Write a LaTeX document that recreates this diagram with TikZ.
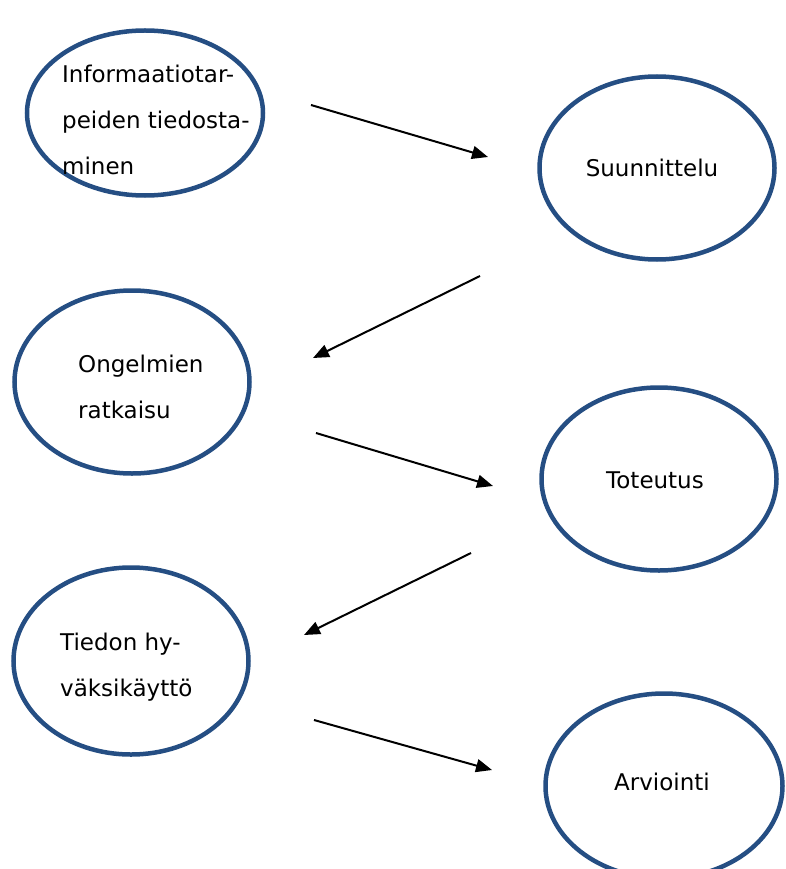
\documentclass[tikz,border=0pt]{standalone}
\usepackage{fontspec}
\setmainfont{DejaVu Sans}
\usetikzlibrary{shapes.geometric,arrows.meta}
\definecolor{rim}{RGB}{37,78,131}
\tikzstyle{phase}=[ellipse,draw=rim,line width=4.5pt,inner sep=0pt,minimum width=235pt,minimum height=183pt]
\tikzstyle{txt}=[align=left,inner sep=0pt,anchor=west,font=\fontsize{23}{46}\selectfont]
\tikzstyle{flow}=[line width=2pt,-{Triangle[length=16pt,width=13pt]}]

\begin{document}
\begin{tikzpicture}[x=1pt,y=-1pt]
\useasboundingbox (0,0) rectangle (785,869);

  % ellipses
  \node[phase,minimum width=236pt,minimum height=165pt] (info) at (145,113) {};
  \node[phase] (plan) at (657,168) {};
  \node[phase] (solve) at (132,382) {};
  \node[phase] (impl) at (659,479) {};
  \node[phase,minimum height=187pt] (use) at (131,661) {};
  \node[phase,minimum width=237pt,minimum height=185pt] (eval) at (664,786) {};

  % texts
  \node[txt] (infot) at (62,120) {Informaatiotar-\\peiden tiedosta-\\minen};
  \node[txt,anchor=center] (plant) at (652,168) {Suunnittelu};
  \node[txt] (solvet) at (78,387) {Ongelmien\\ratkaisu};
  \node[txt,anchor=center] (implt) at (655,480) {Toteutus};
  \node[txt] (uset) at (60,667) {Tiedon hy-\\väksikäyttö};
  \node[txt,anchor=center] (evalt) at (662,782) {Arviointi};

  % arrows
  \coordinate (a1s) at (311,105);
  \coordinate (a1e) at (488,157);
  \coordinate (a2s) at (480,276);
  \coordinate (a2e) at (313,358);
  \coordinate (a3s) at (316,433);
  \coordinate (a3e) at (493,486);
  \coordinate (a4s) at (471,553);
  \coordinate (a4e) at (304,635);
  \coordinate (a5s) at (314,720);
  \coordinate (a5e) at (492,770);

  \draw[flow] (a1s) -- (a1e);
  \draw[flow] (a2s) -- (a2e);
  \draw[flow] (a3s) -- (a3e);
  \draw[flow] (a4s) -- (a4e);
  \draw[flow] (a5s) -- (a5e);

\end{tikzpicture}
\end{document}
